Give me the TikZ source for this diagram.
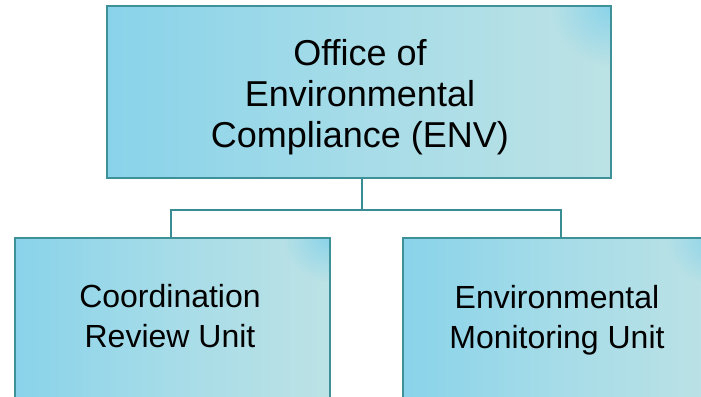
\documentclass[tikz,border=0pt]{standalone}
\usepackage{fontspec}
\usetikzlibrary{fadings}
\setmainfont{Liberation Sans}
\definecolor{cblue}{HTML}{89D3EA}
\definecolor{cmid}{HTML}{A6DCE8}
\definecolor{clight}{HTML}{BCE2E5}
\definecolor{cedge}{HTML}{3F9199}
\definecolor{cline}{HTML}{3A8C93}
\tikzfading[name=blobfade, inner color=transparent!0, outer color=transparent!100]
\tikzset{
  boxfill/.style={left color=cblue, right color=clight, middle color=cmid},
  boxedge/.style={draw=cedge, line width=2pt},
  blob/.style={fill=cblue, path fading=blobfade},
  conn/.style={draw=cline, line width=2pt},
  toptext/.style={inner sep=0pt, align=center, font=\fontsize{36}{41}\selectfont},
  subtext/.style={inner sep=0pt, align=center, font=\fontsize{32}{39.5}\selectfont},
}
\begin{document}
\begin{tikzpicture}[x=1pt,y=1pt]
\useasboundingbox (0,0) rectangle (701,-396);
\clip (0,0) rectangle (701,-396);
\fill[white] (0,0) rectangle (701,-396);
% top box
\begin{scope}
  \clip (107,-6) rectangle (611,-178);
  \shade[boxfill] (107,-6) rectangle (611,-178);
  \path[blob] (611,-6) circle (60);
\end{scope}
\node[boxedge, minimum width=504pt, minimum height=172pt, inner sep=0pt] (top) at (359,-92) {};
% left box
\begin{scope}
  \clip (14,-237) rectangle (329,-420);
  \shade[boxfill] (14,-237) rectangle (329,-420);
  \path[blob] (329,-237) circle (45);
\end{scope}
\node[boxedge, minimum width=315pt, minimum height=183pt, inner sep=0pt, anchor=north west] (left) at (14,-237) {};
% right box
\begin{scope}
  \clip (402,-237) rectangle (717,-420);
  \shade[boxfill] (402,-237) rectangle (717,-420);
  \path[blob] (717,-237) circle (50);
\end{scope}
\node[boxedge, minimum width=315pt, minimum height=183pt, inner sep=0pt, anchor=north west] (right) at (402,-237) {};
% texts
\node[toptext] (toplabel) at (360,-97) {Office of\\Environmental\\Compliance (ENV)};
\node[subtext] (leftlabel) at (170,-316) {Coordination\\Review Unit};
\node[subtext] (rightlabel) at (557,-320) {Environmental\\Monitoring Unit};
% connectors
\coordinate (junction) at (362,-209.5);
\coordinate (lj) at (171,-209.5);
\coordinate (rj) at (561,-209.5);
\draw[conn] (top.south -| junction) -- (junction);
\draw[conn] (lj |- left.north) -- (lj) -- (rj) -- (rj |- right.north);
\end{tikzpicture}
\end{document}
